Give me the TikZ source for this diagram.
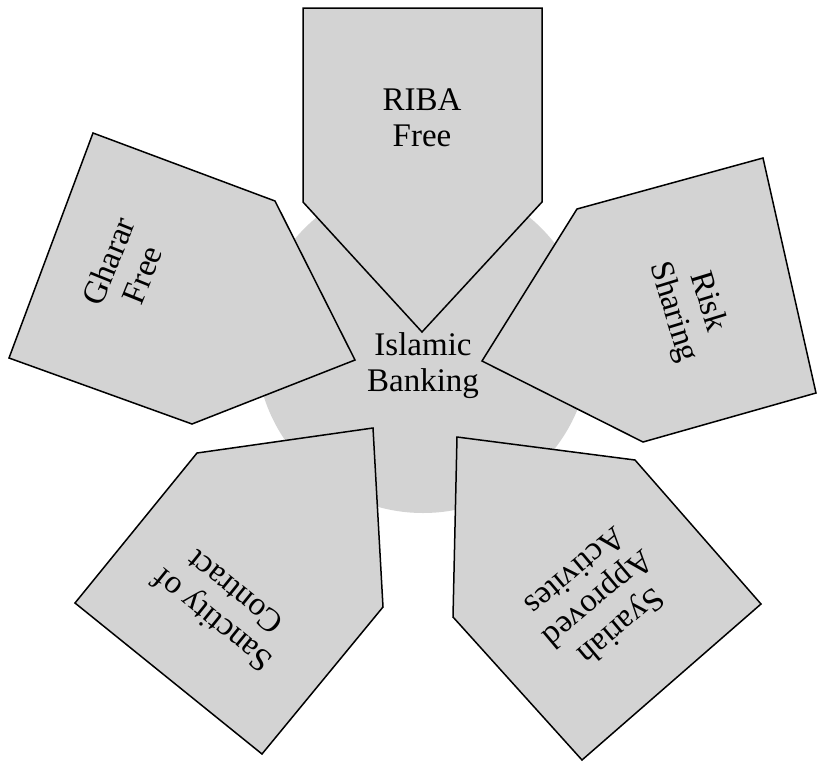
\documentclass[tikz,border=0pt]{standalone}
\usepackage{fontspec}
\setmainfont{Liberation Serif}
\begin{document}
\begin{tikzpicture}[x=1pt,y=-1pt,
  petal/.style={draw=black,fill=petalgray,line width=1.5pt,line join=miter},
  label/.style={align=center,font=\fontsize{33}{36}\selectfont,inner sep=0pt}]
\definecolor{petalgray}{RGB}{211,211,211}
\useasboundingbox (0,0) rectangle (817,761);
% central disc
\fill[petalgray] (423,346) circle[radius=167];
% five pentagonal pointers around the disc
\path[petal] (303,8) -- (542,8) -- (542,202) -- (422,332) -- (303,202) -- cycle;
\path[petal] (93,133) -- (275,201) -- (355,360) -- (192,424) -- (9,358) -- cycle;
\path[petal] (577,209) -- (763,158) -- (816,393) -- (643,442) -- (482,361) -- cycle;
\path[petal] (197,453) -- (373,428) -- (383,607) -- (262,754) -- (75,603) -- cycle;
\path[petal] (457,437) -- (635,460) -- (761,604) -- (582,760) -- (453,617) -- cycle;
% labels
\node[label] (center) at (423,366) {Islamic\\Banking};
\node[label] (riba) at (422,118) {RIBA\\Free};
\node[label,rotate=68] (gharar) at (125,268) {Gharar\\Free};
\node[label,rotate=-73] (risk) at (690,307) {Risk\\Sharing};
\node[label,rotate=141] (sanctity) at (223,607) {Sanctity of\\Contract};
\node[label,rotate=-140] (syariah) at (599,600) {Syariah\\Approved\\Activites};
\end{tikzpicture}
\end{document}
